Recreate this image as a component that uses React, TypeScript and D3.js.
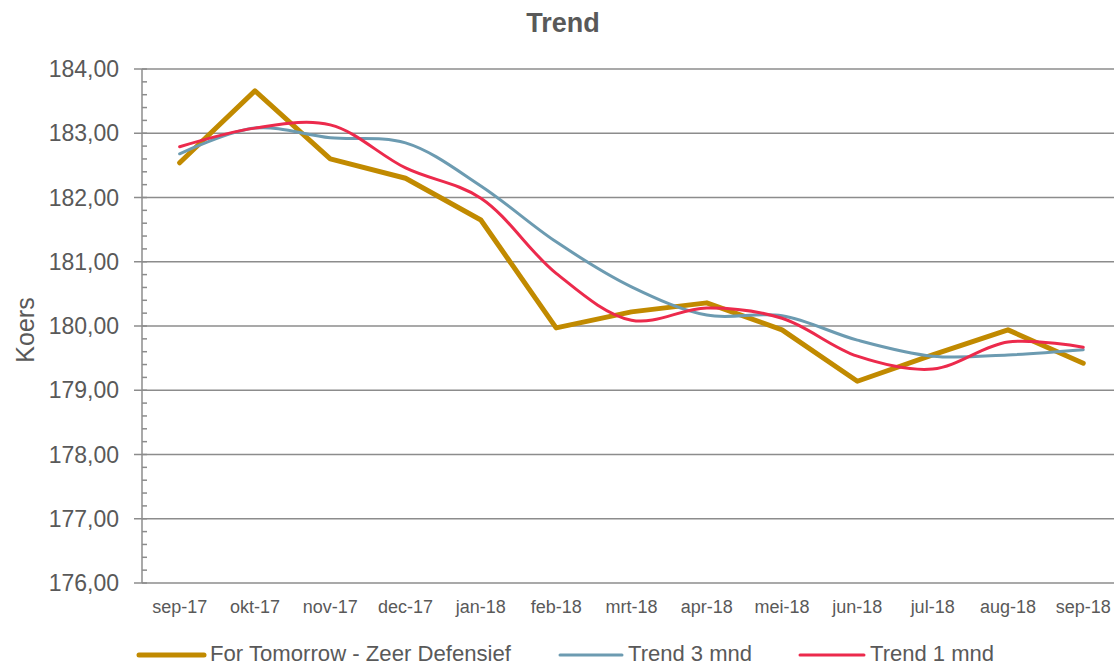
import React from 'react';
import * as d3 from 'd3';

const months = ['sep-17', 'okt-17', 'nov-17', 'dec-17', 'jan-18', 'feb-18', 'mrt-18', 'apr-18', 'mei-18', 'jun-18', 'jul-18', 'aug-18', 'sep-18'];
const forTomorrow = [182.54, 183.66, 182.6, 182.3, 181.65, 179.97, 180.22, 180.36, 179.94, 179.14, 179.55, 179.94, 179.42];
const trend3 = [182.68, 183.08, 182.93, 182.85, 182.18, 181.31, 180.61, 180.17, 180.16, 179.78, 179.53, 179.55, 179.63];
const trend1 = [182.79, 183.08, 183.13, 182.46, 181.99, 180.82, 180.09, 180.28, 180.12, 179.53, 179.33, 179.75, 179.67];
const yTicks = [176, 177, 178, 179, 180, 181, 182, 183, 184];

const series = [
  { name: 'For Tomorrow - Zeer Defensief', values: forTomorrow, color: '#C18A00', width: 5, smooth: false },
  { name: 'Trend 3 mnd', values: trend3, color: '#6C9BB1', width: 3, smooth: true },
  { name: 'Trend 1 mnd', values: trend1, color: '#EC2A4C', width: 3, smooth: true },
];

const W = 1114;
const H = 665;
const left = 142;
const top = 69;
const bottom = 583;
const step = 75.3;

export default function App() {
  const x = d3.scalePoint<string>().domain(months).range([left + step / 2, left + step * 12.5]);
  const y = d3.scaleLinear().domain([176, 184]).range([bottom, top]);
  const minor = d3.range(176, 184.001, 0.2);
  const fmt = (v: number) => v.toFixed(2).replace('.', ',');
  const grey = '#595959';

  // legend line start, text start, text width (condensed like the original)
  const legendPos = [
    { lx: 139, tx: 210, tw: 301 },
    { lx: 560, tx: 628, tw: 124 },
    { lx: 800, tx: 870, tw: 124 },
  ];

  return (
    <svg width={W} height={H} style={{ position: 'absolute', left: 0, top: 0 }} fontFamily="'Liberation Sans', Arial, sans-serif">
      <rect width={W} height={H} fill="#fff" />
      <text x={563} y={32} textAnchor="middle" fontSize={27} fontWeight="bold" fill={grey}>Trend</text>

      {yTicks.map(t => (
        <g key={t}>
          <line x1={left - 8} x2={W} y1={y(t)} y2={y(t)} stroke="#8C8C8C" strokeWidth={1.5} />
          <text x={119} y={y(t) + 8} textAnchor="end" fontSize={23} fill={grey}>{fmt(t)}</text>
        </g>
      ))}
      {minor.map((m, i) => (
        <line key={i} x1={left} x2={left + 5} y1={y(m)} y2={y(m)} stroke="#8C8C8C" strokeWidth={1.5} />
      ))}
      <line x1={left} x2={left} y1={top} y2={bottom} stroke="#8C8C8C" strokeWidth={1.5} />

      <text transform={`translate(34,330) rotate(-90)`} textAnchor="middle" fontSize={25} fill={grey}>Koers</text>

      {months.map(m => (
        <text key={m} x={x(m)} y={613} textAnchor="middle" fontSize={18} fill={grey}>{m}</text>
      ))}

      {series.map(s => {
        const line = d3.line<number>()
          .x((_, i) => x(months[i]) as number)
          .y(v => y(v))
          .curve(s.smooth ? d3.curveCatmullRom.alpha(0.5) : d3.curveLinear);
        return (
          <path key={s.name} d={line(s.values) || ''} fill="none" stroke={s.color} strokeWidth={s.width}
            strokeLinecap="round" strokeLinejoin="round" />
        );
      })}

      {series.map((s, i) => (
        <g key={s.name}>
          <line x1={legendPos[i].lx} x2={legendPos[i].tx - 6} y1={655} y2={655} stroke={s.color}
            strokeWidth={s.width} strokeLinecap="round" />
          <text x={legendPos[i].tx} y={661} fontSize={22} fill={grey}
            textLength={legendPos[i].tw} lengthAdjust="spacingAndGlyphs">{s.name}</text>
        </g>
      ))}
    </svg>
  );
}
